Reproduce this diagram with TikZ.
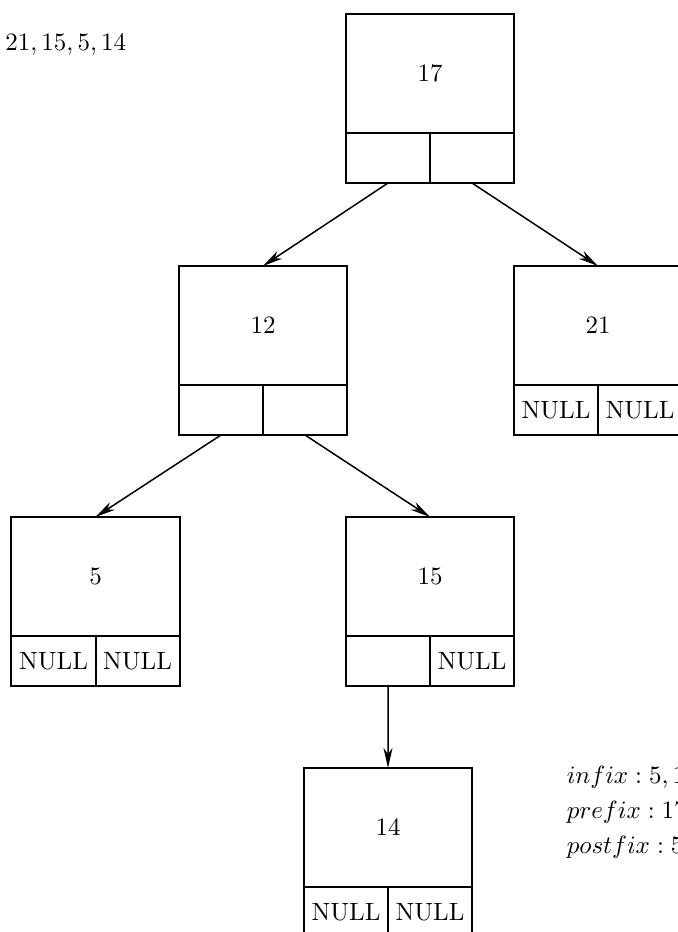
\documentclass[tikz,border=0pt]{standalone}
\usepackage{amsmath}
\usetikzlibrary{arrows.meta}

\begin{document}
\begin{tikzpicture}[
  x=0.4pt,
  y=-0.4pt,
  every node/.style={font=\normalsize},
  keybox/.style={draw, line width=0.8pt, minimum width=67.2pt, minimum height=47.6pt, inner sep=0pt, outer sep=0pt},
  ptrbox/.style={draw, line width=0.8pt, minimum width=33.6pt, minimum height=20pt, inner sep=0pt, outer sep=0pt, anchor=north west},
  link/.style={-{Stealth[length=8pt, width=3.6pt, inset=2.4pt]}, line width=0.6pt}
]
  \path[use as bounding box] (0,0) rectangle (678,932);
  \clip (0,0) rectangle (678,932);

  % input sequence
  \node[anchor=east] (seq) at (135,45) {$17, 12, 21, 15, 5, 14$};

  % Node 17
  \node[keybox] (n17) at (430,73.5) {17};
  \node[ptrbox] (n17l) at (n17.south west) {};
  \node[ptrbox] (n17r) at (n17l.north east) {};

  % Node 12
  \node[keybox] (n12) at (263,325.5) {12};
  \node[ptrbox] (n12l) at (n12.south west) {};
  \node[ptrbox] (n12r) at (n12l.north east) {};

  % Node 21
  \node[keybox] (n21) at (598,325.5) {21};
  \node[ptrbox] (n21l) at (n21.south west) {NULL};
  \node[ptrbox] (n21r) at (n21l.north east) {NULL};

  % Node 5
  \node[keybox] (n5) at (95.5,576.5) {5};
  \node[ptrbox] (n5l) at (n5.south west) {NULL};
  \node[ptrbox] (n5r) at (n5l.north east) {NULL};

  % Node 15
  \node[keybox] (n15) at (430,576.5) {15};
  \node[ptrbox] (n15l) at (n15.south west) {};
  \node[ptrbox] (n15r) at (n15l.north east) {NULL};

  % Node 14
  \node[keybox] (n14) at (388,827.5) {14};
  \node[ptrbox] (n14l) at (n14.south west) {NULL};
  \node[ptrbox] (n14r) at (n14l.north east) {NULL};

  % links
  \draw[link] (n17l.south) -- (n12.north);
  \draw[link] (n17r.south) -- (n21.north);
  \draw[link] (n12l.south) -- (n5.north);
  \draw[link] (n12r.south) -- (n15.north);
  \draw[link] (n15l.south) -- (n14.north);

  % traversals
  \node[anchor=west] (inf) at (558,777) {$infix: 5, 12, 14, 15, 17, 21$};
  \node[anchor=west] (pre) at (558,812) {$prefix: 17, 12, 5, 15, 14, 21$};
  \node[anchor=west] (post) at (558,847) {$postfix: 5, 14, 15, 12, 21, 17$};
\end{tikzpicture}
\end{document}
